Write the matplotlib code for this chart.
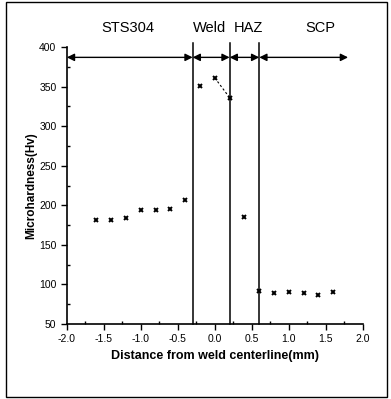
import matplotlib
matplotlib.use("Agg")
import matplotlib.pyplot as plt
from matplotlib.ticker import MultipleLocator, FormatStrFormatter
from matplotlib.patches import Rectangle

plt.rcParams['font.family'] = ['Liberation Sans', 'DejaVu Sans']

# hardness profile
sts_x = [-1.6, -1.4, -1.2, -1.0, -0.8, -0.6, -0.4]
sts_hv = [181, 181, 184, 194, 194, 195, 207]
weld_x = [-0.2, 0.0, 0.2]
weld_hv = [351, 361, 336]
haz_x = [0.4]
haz_hv = [185]
scp_x = [0.6, 0.8, 1.0, 1.2, 1.4, 1.6]
scp_hv = [92, 89, 90, 89, 87, 90]

# zone borders and labels
borders = [-0.3, 0.2, 0.6]
zone_edges = [-2.0, -0.3, 0.2, 0.6, 1.8]
zone_names = ["STS304", "Weld", "HAZ", "SCP"]
zone_label_x = [-1.18, -0.07, 0.45, 1.42]

fig = plt.figure(figsize=(3.91, 3.99), dpi=100)
ax = fig.add_axes([0.171, 0.188, 0.757, 0.694])

mk = dict(marker='x', color='black', ms=3.5, mew=1.4, ls='none')
ax.plot(sts_x, sts_hv, **mk)
ax.plot(weld_x, weld_hv, **mk)
ax.plot(weld_x[1:], weld_hv[1:], color='black', ls=(0, (2, 2)), lw=0.8)
ax.plot(haz_x, haz_hv, **mk)
ax.plot(scp_x, scp_hv, **mk)

for b in borders:
    ax.plot([b, b], [50, 405], color='black', lw=1.1, clip_on=False)

for x0, x1 in zip(zone_edges[:-1], zone_edges[1:]):
    ax.annotate('', xy=(x1, 387), xytext=(x0, 387),
                arrowprops=dict(arrowstyle='<|-|>', color='black', lw=1.0,
                                mutation_scale=11, shrinkA=0, shrinkB=0),
                annotation_clip=False)

for name, lx in zip(zone_names, zone_label_x):
    ax.text(lx, 424, name, ha='center', va='center', fontsize=10.5,
            clip_on=False)

ax.set_xlim(-2.0, 2.0)
ax.set_ylim(50, 400)
ax.xaxis.set_major_locator(MultipleLocator(0.5))
ax.xaxis.set_minor_locator(MultipleLocator(0.25))
ax.yaxis.set_major_locator(MultipleLocator(50))
ax.yaxis.set_minor_locator(MultipleLocator(25))
ax.xaxis.set_major_formatter(FormatStrFormatter('%.1f'))
ax.tick_params(which='major', direction='out', length=4, width=1, labelsize=7.5)
ax.tick_params(which='minor', direction='in', length=2, width=1)
for s in ['top', 'right']:
    ax.spines[s].set_visible(False)
for s in ['left', 'bottom']:
    ax.spines[s].set_linewidth(1.2)

ax.set_xlabel('Distance from weld centerline(mm)', fontsize=9, fontweight='bold')
ax.set_ylabel('Microhardness(Hv)', fontsize=8.5, fontweight='bold', labelpad=1)

fig.patches.append(Rectangle((0.015, 0.005), 0.975, 0.99, transform=fig.transFigure,
                             fill=False, edgecolor='black', lw=1.0))

fig.savefig('out.png', dpi=100)
